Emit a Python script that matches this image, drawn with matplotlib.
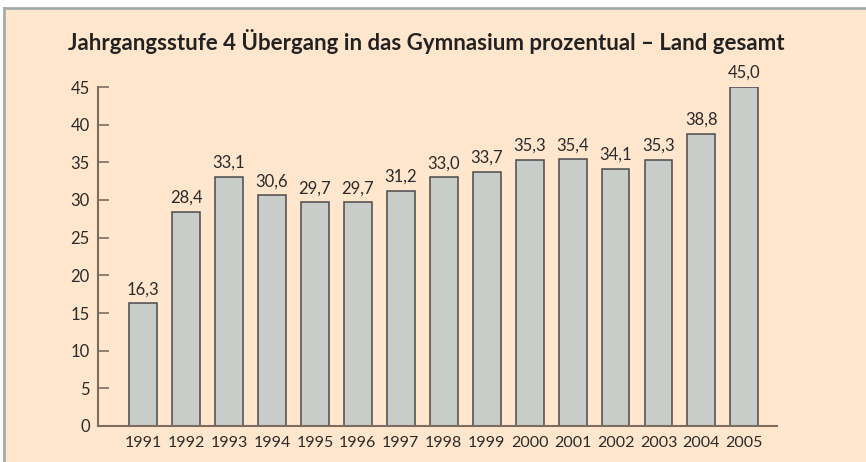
import matplotlib.pyplot as plt
from matplotlib.patches import Rectangle
from matplotlib.lines import Line2D

years = ["1991", "1992", "1993", "1994", "1995", "1996", "1997", "1998",
         "1999", "2000", "2001", "2002", "2003", "2004", "2005"]
values = [16.3, 28.4, 33.1, 30.6, 29.7, 29.7, 31.2, 33.0,
          33.7, 35.3, 35.4, 34.1, 35.3, 38.8, 45.0]
yticks = [0, 5, 10, 15, 20, 25, 30, 35, 40, 45]

plt.rcParams['font.family'] = ['Lato', 'DejaVu Sans']
bg = '#ffe6cc'
txt = '#2b2b2b'
axcol = '#7d6d60'

fig = plt.figure(figsize=(8.66, 4.62), dpi=100)
fig.patch.set_facecolor('white')
# peach panel with gray top/left border
fig.patches.append(Rectangle((4/866, 0), 1, 1 - 8/462, transform=fig.transFigure,
                             facecolor=bg, edgecolor='none', zorder=-10))
fig.lines.append(Line2D([4/866, 1], [1 - 8/462, 1 - 8/462], transform=fig.transFigure,
                        color='#a3aeab', lw=2, zorder=-5))
fig.lines.append(Line2D([4/866, 4/866], [0, 1 - 8/462], transform=fig.transFigure,
                        color='#a3aeab', lw=2, zorder=-5))

ax = fig.add_axes([98/866, 36/462, 679/866, 339/462])
ax.set_facecolor('none')

x = list(range(len(years)))
ax.bar(x, values, width=0.65, color='#c8cdca', edgecolor='#4a4a4a', linewidth=1.1, zorder=2)
for xi, v in zip(x, values):
    ax.text(xi, v + 0.8, f"{v:.1f}".replace('.', ','), ha='center', va='bottom',
            fontsize=12, color=txt, clip_on=False)

ax.set_xlim(-1.05, 14.76)
ax.set_ylim(0, 45)
ax.set_xticks(x)
ax.set_xticklabels(years)
ax.set_yticks(yticks)
ax.tick_params(axis='x', length=0, labelsize=11.5, colors=txt, pad=7)
ax.tick_params(axis='y', direction='in', length=8, width=1.2, color=axcol,
               labelsize=12, labelcolor=txt, pad=6)
for s in ['top', 'right']:
    ax.spines[s].set_visible(False)
for s in ['left', 'bottom']:
    ax.spines[s].set_color(axcol)
    ax.spines[s].set_linewidth(1.5)

fig.text(68/866, 1 - 42/462, "Jahrgangsstufe 4 Übergang in das Gymnasium prozentual – Land gesamt",
         fontsize=16, fontweight='bold', color='#222222', va='center', ha='left')

plt.savefig("out.png", dpi=100, facecolor=fig.get_facecolor())
